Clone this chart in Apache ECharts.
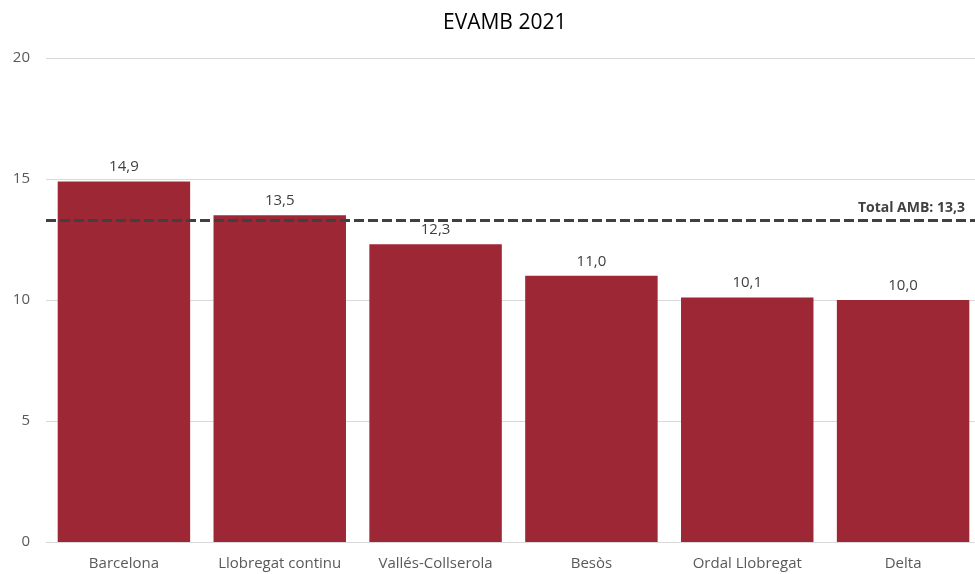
<!DOCTYPE html>
<html>
<head>
<meta charset="utf-8">
<script src="https://cdn.jsdelivr.net/npm/echarts@6/dist/echarts.min.js"></script>
<style>html,body{margin:0;padding:0;background:#fff}#c{width:975px;height:574px}</style>
</head>
<body>
<div id="c"></div>
<script>
const titleText = 'EVAMB 2021';
const categories = ['Barcelona', 'Llobregat continu', 'Vallés-Collserola', 'Besòs', 'Ordal Llobregat', 'Delta'];
const values = [14.9, 13.5, 12.3, 11.0, 10.1, 10.0];
const totalLabel = 'Total AMB';
const totalValue = 13.3;
const yTicks = [0, 5, 10, 15, 20];

const fmt = v => v.toFixed(1).replace('.', ',');
const FONT = 'Open Sans';
const chart = echarts.init(document.getElementById('c'), null, {renderer: 'canvas'});
chart.setOption({
  animation: false,
  textStyle: {fontFamily: FONT},
  title: {text: titleText, left: 438, top: 8,
    textStyle: {fontFamily: FONT, fontSize: 21, fontWeight: 'normal', color: '#000'}},
  grid: {left: 46, width: 935, top: 58, height: 484, outerBoundsMode: 'none', containLabel: false},
  xAxis: {type: 'category', data: categories,
    axisLine: {show: true, lineStyle: {color: '#d9d9d9'}},
    axisTick: {show: false},
    axisLabel: {color: '#595959', fontSize: 15, margin: 14, interval: 0}},
  yAxis: {type: 'value', min: yTicks[0], max: yTicks[yTicks.length - 1], interval: 5,
    axisLine: {show: false}, axisTick: {show: false},
    splitLine: {lineStyle: {color: '#d9d9d9'}},
    axisLabel: {color: '#595959', fontSize: 15, margin: 16}},
  series: [{
    type: 'bar', data: values, barCategoryGap: '15%',
    itemStyle: {color: '#9E2735'},
    label: {show: true, position: 'top', distance: 7, color: '#404040', fontSize: 15,
      formatter: p => fmt(p.value)},
    markLine: {
      symbol: 'none', silent: true,
      lineStyle: {type: [10, 4], width: 3, color: '#404040'},
      label: {position: 'insideEndTop', formatter: totalLabel + ': ' + fmt(totalValue),
        color: '#404040', fontWeight: 'bold', fontSize: 14, padding: [0, 11, 0, 0], distance: 5},
      data: [{yAxis: totalValue}]
    }
  }]
});
</script>
</body>
</html>
